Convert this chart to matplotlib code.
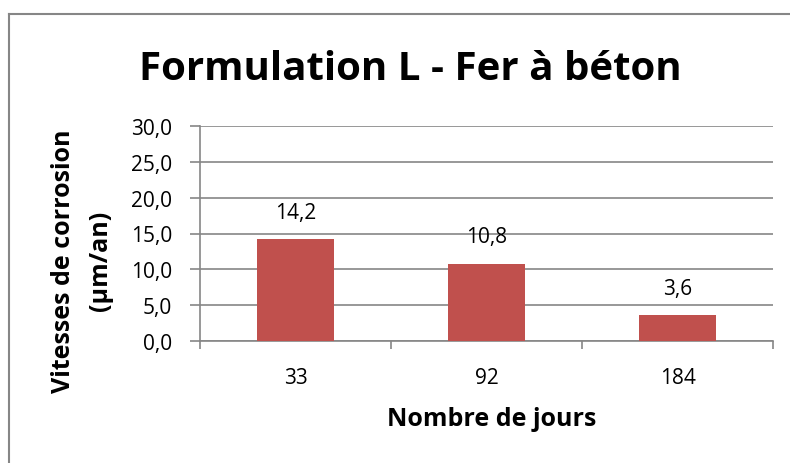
import matplotlib
matplotlib.use("Agg")
import matplotlib.pyplot as plt
from matplotlib.lines import Line2D
from matplotlib.ticker import FixedLocator, FuncFormatter
import numpy as np

plt.rcParams['font.family'] = ['Open Sans', 'DejaVu Sans']

days = ["33", "92", "184"]
rates = [14.2, 10.8, 3.6]
y_ticks = [0, 5, 10, 15, 20, 25, 30]

title = "Formulation L - Fer à béton"
x_label = "Nombre de jours"
y_label = "Vitesses de corrosion\n(µm/an)"

bar_color = "#C0504D"
axis_gray = "#868686"

W, H = 790, 464
fig = plt.figure(figsize=(W / 100, H / 100), dpi=100)

# chart frame (top and left edges)
fig.add_artist(Line2D([9 / W, 9 / W], [0, 1 - 15 / H], transform=fig.transFigure,
                      color=axis_gray, lw=1.5))
fig.add_artist(Line2D([9 / W, 1], [1 - 15 / H, 1 - 15 / H], transform=fig.transFigure,
                      color=axis_gray, lw=1.5))

ax = fig.add_axes([200 / W, 1 - 342 / H, 573 / W, 215 / H])
x = np.arange(len(days))
ax.bar(x, rates, width=0.4, color=bar_color, zorder=3)

ax.set_xlim(-0.5, len(days) - 0.5)
ax.set_ylim(0, 30)
ax.set_yticks(y_ticks)
ax.yaxis.set_major_formatter(FuncFormatter(lambda v, p: f"{v:.1f}".replace(".", ",")))
ax.grid(axis="y", color=axis_gray, lw=1.2, zorder=0)

ax.set_xticks(x)
ax.set_xticklabels(days)
ax.xaxis.set_minor_locator(FixedLocator(np.arange(-0.5, len(days), 1.0)))
ax.tick_params(axis="x", which="major", length=0, pad=19, labelsize=15)
ax.tick_params(axis="x", which="minor", length=6, width=1.2, color=axis_gray)
ax.tick_params(axis="y", length=7, width=1.2, color=axis_gray, labelsize=15, pad=13)

for side in ["top", "right"]:
    ax.spines[side].set_visible(False)
for side in ["left", "bottom"]:
    ax.spines[side].set_color(axis_gray)
    ax.spines[side].set_linewidth(1.2)

for xi, v in zip(x, rates):
    ax.annotate(f"{v:.1f}".replace(".", ","), (xi, v), xytext=(0, 12),
                textcoords="offset points", ha="center", va="bottom", fontsize=15)

fig.text(410 / W, 1 - 70 / H, title, ha="center", va="center",
         fontsize=29, fontweight="bold")
fig.text(492 / W, 1 - 420 / H, x_label, ha="center", va="center",
         fontsize=18, fontweight="bold")
fig.text(82 / W, 1 - 261 / H, y_label, ha="center", va="center", rotation=90,
         fontsize=18, fontweight="bold", linespacing=1.6)

fig.savefig("out.png", dpi=100)
